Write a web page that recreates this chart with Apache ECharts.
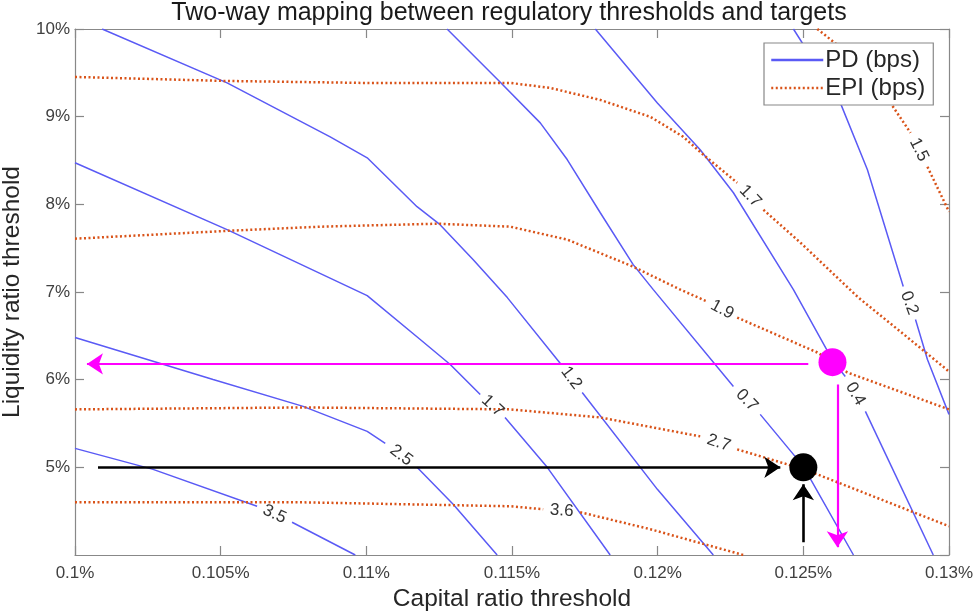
<!DOCTYPE html>
<html>
<head>
<meta charset="utf-8">
<title>Two-way mapping between regulatory thresholds and targets</title>
<script src="https://cdn.jsdelivr.net/npm/echarts@6/dist/echarts.min.js"></script>
<style>
  html, body { margin: 0; padding: 0; background: #fff; }
  #chart { width: 976px; height: 612px; }
</style>
</head>
<body>
<div id="chart"></div>
<script>
// contour lines as [capital %, liquidity %]; null marks the gap for the level label
const pd35 = [[0.1, 5.216], [0.10268, 4.977], [0.10625, 4.556], null, [0.10745, 4.374], [0.10962, 4.0]];
const pd25 = [[0.1, 6.481], [0.10474, 6.002], [0.10783, 5.695], [0.11003, 5.41], [0.11065, 5.273], null,
  [0.11174, 5.0], [0.11298, 4.579], [0.11449, 4.0]];
const pd17 = [[0.1, 8.474], [0.10522, 7.711], [0.11003, 6.959], [0.11185, 6.458], [0.11288, 6.173], [0.11391, 5.831], null,
  [0.11476, 5.569], [0.11621, 5.0], [0.11837, 4.0]];
const pd12 = [[0.10093, 10], [0.10522, 9.385], [0.10876, 8.77], [0.11003, 8.531], [0.11174, 7.973], [0.11253, 7.768],
  [0.11367, 7.369], [0.11484, 6.936], [0.11666, 6.185], null, [0.11741, 5.854], [0.11999, 4.749], [0.12191, 4.0]];
const pd07 = [[0.11277, 10], [0.11459, 9.396], [0.11597, 8.929], [0.1169, 8.508], [0.11803, 7.904], [0.11916, 7.312],
  [0.11985, 7.027], [0.1226, 5.923], null, [0.12352, 5.604], [0.125, 5.011], [0.12672, 4.0]];
const pd04 = [[0.11786, 10], [0.11999, 9.157], [0.12146, 8.622], [0.1226, 8.132], [0.12466, 7.027], [0.12603, 6.207],
  [0.12644, 6.036], null, [0.12713, 5.638], [0.12946, 4.0]];
const pd02 = [[0.12466, 10], [0.12627, 9.157], [0.1272, 8.394], [0.12843, 7.062], null,
  [0.12885, 6.686], [0.12926, 6.23], [0.13, 5.604]];

const epi17 = [[0.1, 9.453], [0.10508, 9.408], [0.10989, 9.385], [0.11494, 9.385], [0.11631, 9.328], [0.11803, 9.191],
  [0.11975, 8.998], [0.12088, 8.77], [0.12157, 8.565], [0.12273, 8.246], null,
  [0.12363, 7.938], [0.1249, 7.563], [0.12689, 6.936], [0.12833, 6.549], [0.13, 6.093]];
const epi15 = [[0.12548, 10], [0.12617, 9.818], [0.12799, 9.157], [0.12868, 8.815], null, [0.12926, 8.428], [0.13, 7.916]];
const epi19 = [[0.1, 7.608], [0.10532, 7.699], [0.10841, 7.745], [0.11243, 7.779], [0.11494, 7.745], [0.1169, 7.597],
  [0.11916, 7.289], [0.12078, 7.027], [0.1217, 6.891], null,
  [0.12273, 6.708], [0.12548, 6.31], [0.12603, 6.196], [0.12651, 6.082], [0.13, 5.661]];
const epi27 = [[0.1, 5.661], [0.10783, 5.683], [0.11494, 5.661], [0.11803, 5.569], [0.12146, 5.353], null,
  [0.12273, 5.205], [0.12445, 5.034], [0.12548, 4.92], [0.13, 4.328]];
const epi36 = [[0.1, 4.601], [0.10783, 4.601], [0.11494, 4.556], [0.11607, 4.522], null,
  [0.11734, 4.488], [0.11975, 4.294], [0.12294, 4.0]];

const pdCurves = [pd35, pd25, pd17, pd12, pd07, pd04, pd02];
const pdLevels = ['3.5', '2.5', '1.7', '1.2', '0.7', '0.4', '0.2'];
const epiCurves = [epi17, epi15, epi19, epi27, epi36];
const epiLevels = ['1.7', '1.5', '1.9', '2.7', '3.6'];

// chosen points and the arrows that read them off (second point is the tip)
const pinkPoint = [0.126, 6.2];
const blackPoint = [0.125, 5.0];
const pinkArrows = [[[0.12517, 6.18], [0.10041, 6.18]], [[0.12617, 5.945], [0.12617, 4.089]]];
const blackArrows = [[[0.10079, 5.0], [0.12421, 5.0]], [[0.125, 4.146], [0.125, 4.806]]];

const PD_COLOR = '#5a5af5';
const EPI_COLOR = '#d95319';
const FONT = '"Liberation Sans", Arial, sans-serif';

function split(curve) {
  const segs = [[]];
  curve.forEach(p => {
    if (p === null) segs.push([]);
    else segs[segs.length - 1].push(p);
  });
  return segs;
}

const series = [];
pdCurves.forEach(c => split(c).forEach(seg => series.push({
  type: 'line', name: 'PD (bps)', data: seg, symbol: 'none', silent: true,
  lineStyle: { color: PD_COLOR, width: 1.5 }, itemStyle: { color: PD_COLOR }
})));
epiCurves.forEach(c => split(c).forEach(seg => series.push({
  type: 'line', name: 'EPI (bps)', data: seg, symbol: 'none', silent: true,
  lineStyle: { color: EPI_COLOR, width: 2.5, type: [2, 2.5] }, itemStyle: { color: EPI_COLOR }
})));

function arrowSeries(arrows, color, width) {
  return {
    type: 'lines', coordinateSystem: 'cartesian2d', silent: true, z: 5,
    symbol: ['none', 'arrow'], symbolSize: 16,
    lineStyle: { color: color, width: width, opacity: 1 },
    data: arrows.map(a => ({ coords: a }))
  };
}
series.push(arrowSeries(pinkArrows, '#ff00ff', 2.2));
series.push(arrowSeries(blackArrows, '#000', 2.6));
series.push({ type: 'scatter', data: [pinkPoint], symbolSize: 28, silent: true, z: 6,
  itemStyle: { color: '#ff00ff', opacity: 1 } });
series.push({ type: 'scatter', data: [blackPoint], symbolSize: 28, silent: true, z: 6,
  itemStyle: { color: '#000', opacity: 1 } });

const axisCommon = {
  type: 'value',
  axisLine: { show: true, lineStyle: { color: '#888', width: 1.2 } },
  axisTick: { show: true, inside: true, length: 9, lineStyle: { color: '#888', width: 1.2 } },
  splitLine: { show: false }
};

const chart = echarts.init(document.getElementById('chart'));
chart.setOption({
  animation: false,
  backgroundColor: '#fff',
  title: {
    text: 'Two-way mapping between regulatory thresholds and targets',
    left: 509, textAlign: 'center', top: 1, padding: 0,
    textStyle: { fontFamily: FONT, fontSize: 25, fontWeight: 'normal', color: '#1a1a1a' }
  },
  legend: {
    data: ['PD (bps)', 'EPI (bps)'],
    orient: 'vertical', left: 764, top: 43,
    padding: [4, 8, 4, 6], itemGap: 2, itemWidth: 52, itemHeight: 14,
    itemStyle: { opacity: 0 },
    lineStyle: { width: 2.5 },
    backgroundColor: '#fff', borderColor: '#888', borderWidth: 1.2,
    textStyle: { fontFamily: FONT, fontSize: 24, color: '#262626', lineHeight: 26, padding: [0, 0, 0, -3] }
  },
  grid: { left: 75, right: 27, top: 29, bottom: 57, containLabel: false, outerBoundsMode: 'none' },
  xAxis: [
    Object.assign({}, axisCommon, {
      min: 0.1, max: 0.13, interval: 0.005,
      name: 'Capital ratio threshold', nameLocation: 'middle', nameGap: 31,
      nameTextStyle: { fontFamily: FONT, fontSize: 24.5, color: '#262626' },
      axisLabel: { fontFamily: FONT, fontSize: 17, color: '#404040', margin: 10,
        formatter: v => (+v.toFixed(3)) + '%' }
    }),
    Object.assign({}, axisCommon, { position: 'top', min: 0.1, max: 0.13, interval: 0.005, axisLabel: { show: false } })
  ],
  yAxis: [
    Object.assign({}, axisCommon, {
      min: 4, max: 10, interval: 1,
      name: 'Liquidity ratio threshold', nameLocation: 'middle', nameGap: 43,
      nameTextStyle: { fontFamily: FONT, fontSize: 24.5, color: '#262626' },
      axisLabel: { fontFamily: FONT, fontSize: 17, color: '#404040', margin: 5, showMinLabel: false,
        formatter: v => v + '%' }
    }),
    Object.assign({}, axisCommon, { position: 'right', min: 4, max: 10, interval: 1, axisLabel: { show: false } })
  ],
  series: series
});

// contour level labels, centred in each gap and turned along the line
const labels = [];
function addLabels(curves, levels) {
  curves.forEach((c, i) => {
    const k = c.indexOf(null);
    const a = chart.convertToPixel({ gridIndex: 0 }, c[k - 1]);
    const b = chart.convertToPixel({ gridIndex: 0 }, c[k + 1]);
    let ang = Math.atan2(b[1] - a[1], b[0] - a[0]);
    if (ang > Math.PI / 2) ang -= Math.PI;
    if (ang < -Math.PI / 2) ang += Math.PI;
    labels.push({
      type: 'text', x: (a[0] + b[0]) / 2, y: (a[1] + b[1]) / 2, rotation: -ang, z: 10, silent: true,
      style: { text: levels[i], fill: '#333', font: '17px ' + FONT, textAlign: 'center', textVerticalAlign: 'middle' }
    });
  });
}
addLabels(pdCurves, pdLevels);
addLabels(epiCurves, epiLevels);
chart.setOption({ graphic: labels });
</script>
</body>
</html>
